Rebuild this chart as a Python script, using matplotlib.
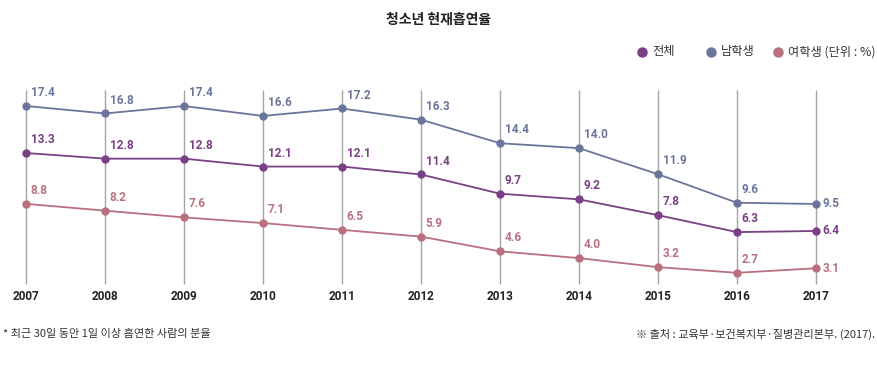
import numpy as np
import matplotlib
matplotlib.use("Agg")
import matplotlib.pyplot as plt

plt.rcParams['font.family'] = ['Noto Sans CJK KR', 'DejaVu Sans']

years = [2007, 2008, 2009, 2010, 2011, 2012, 2013, 2014, 2015, 2016, 2017]
total = [13.3, 12.8, 12.8, 12.1, 12.1, 11.4, 9.7, 9.2, 7.8, 6.3, 6.4]
male = [17.4, 16.8, 17.4, 16.6, 17.2, 16.3, 14.4, 14.0, 11.9, 9.6, 9.5]
female = [8.8, 8.2, 7.6, 7.1, 6.5, 5.9, 4.6, 4.0, 3.2, 2.7, 3.1]
series_names = ['전체', '남학생', '여학생 (단위 : %)']

c_total = '#7a3f85'
c_male = '#6b759b'
c_female = '#b8707e'

fig = plt.figure(figsize=(8.78, 3.71), dpi=100)
ax = fig.add_axes([0, 0, 1, 1])
# male series drawn on its own scale, as in the original graphic
ax2 = ax.twinx()
for a in (ax, ax2):
    a.set_xlim(2007 - 26 / 79, 2007 + 852 / 79)
    a.axis('off')
ax.set_ylim(-5.99, 26.84)
ax2.set_ylim(-3.97, 25.95)

ax.vlines(years, 1.71, 18.88, color='#a4a4a4', lw=1, zorder=1)

num_font = dict(family=['Roboto', 'DejaVu Sans'], weight='bold', fontsize=8.5)

def draw(a, vals, color):
    a.plot(years, vals, color=color, lw=1.3, marker='o', ms=5, zorder=3)
    for i, (x, v) in enumerate(zip(years, vals)):
        if i == len(vals) - 1:
            a.annotate(f'{v:.1f}', (x, v), xytext=(4.5, 0), textcoords='offset points',
                       ha='left', va='center', color=color, **num_font)
        else:
            a.annotate(f'{v:.1f}', (x, v), xytext=(3.5, 5), textcoords='offset points',
                       ha='left', va='bottom', color=color, **num_font)

draw(ax, total, c_total)
draw(ax, female, c_female)
draw(ax2, male, c_male)

for y in years:
    ax.text(y, 0.6, str(y), ha='center', va='center', color='#222222', **num_font)

fig.text(0.5, 1 - 20 / 371, '청소년 현재흡연율', ha='center', va='center',
         fontsize=10, weight='bold', color='#222222')

leg_x = [642, 711, 778]
leg_c = [c_total, c_male, c_female]
for x, c, name in zip(leg_x, leg_c, series_names):
    ax.plot([x / 878], [1 - 52 / 371], marker='o', ms=6.5, color=c,
            transform=fig.transFigure, clip_on=False)
    fig.text((x + 10) / 878, 1 - 52 / 371, name, ha='left', va='center',
             fontsize=8.8, color='#333333')

fig.text(3 / 878, 1 - 334 / 371, '* 최근 30일 동안 1일 이상 흡연한 사람의 분율',
         ha='left', va='center', fontsize=8, color='#333333')
fig.text(875 / 878, 1 - 334 / 371, '※ 출처 : 교육부·보건복지부·질병관리본부. (2017).',
         ha='right', va='center', fontsize=8, color='#333333')

fig.savefig('out.png', dpi=100)
